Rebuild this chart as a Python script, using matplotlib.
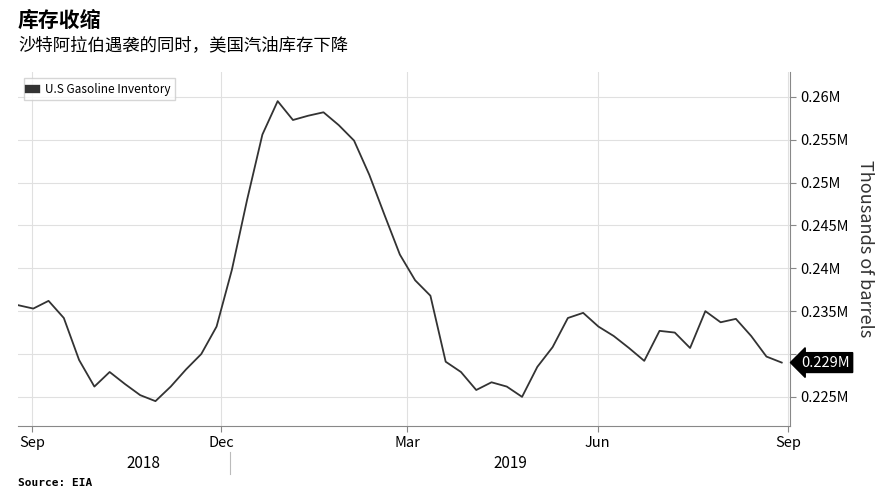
import matplotlib
matplotlib.use("Agg")
import matplotlib.pyplot as plt
import matplotlib.dates as mdates
import pandas as pd

plt.rcParams['font.family'] = ['Noto Sans CJK SC', 'DejaVu Sans']

values = [0.2357,0.2353,0.2362,0.2342,0.2293,0.2262,0.2279,0.2265,0.2252,0.2245,
          0.2262,0.2282,0.2300,0.2332,0.2398,0.2480,0.2556,0.2595,0.2573,0.2578,
          0.2582,0.2567,0.2549,0.2509,0.2462,0.2416,0.2386,0.2368,0.2291,0.2279,
          0.2258,0.2267,0.2262,0.2250,0.2285,0.2308,0.2342,0.2348,0.2332,0.2321,
          0.2307,0.2292,0.2327,0.2325,0.2307,0.2350,0.2337,0.2341,0.2321,0.2297,0.2290]
dates = pd.date_range('2018-08-25', '2019-08-29', periods=len(values))
yticks = [0.225,0.23,0.235,0.24,0.245,0.25,0.255,0.26]
ylabels = ['0.225M','','0.235M','0.24M','0.245M','0.25M','0.255M','0.26M']
xticks = pd.to_datetime(['2018-09-01','2018-12-01','2019-03-01','2019-06-01','2019-09-01'])
xlabels = ['Sep','Dec','Mar','Jun','Sep']

fig = plt.figure(figsize=(8.94,4.98), dpi=100)
ax = fig.add_axes([18/894, 72/498, 772/894, 354/498])
ax.plot(dates, values, color='#333333', lw=1.3)
ax.set_xlim(pd.Timestamp('2018-08-25'), pd.Timestamp('2019-09-02'))
ax.set_ylim(0.2216, 0.2629)
ax.yaxis.tick_right()
ax.set_yticks(yticks); ax.set_yticklabels(ylabels, fontsize=10.5)
ax.set_xticks(xticks); ax.set_xticklabels(xlabels, fontsize=10.5)
ax.grid(True, color='#e0e0e0', lw=0.8)
for s in ['top','left']:
    ax.spines[s].set_visible(False)
ax.spines['bottom'].set_color('#888888'); ax.spines['right'].set_color('#888888')
ax.tick_params(length=4, color='#888888')
ax.yaxis.set_label_position('right')
ax.set_ylabel('Thousands of barrels', rotation=-90, labelpad=18, fontsize=13, color='#333333')
ax.annotate('0.229M', xy=(1.0, values[-1]), xycoords=('axes fraction','data'),
            xytext=(8,0), textcoords='offset points', va='center', fontsize=10.5, color='white',
            bbox=dict(boxstyle='larrow,pad=0.2', fc='black', ec='black'))
ax.legend(['U.S Gasoline Inventory'], loc='upper left', fontsize=8.5, handlelength=0.6,
          handleheight=0.6, frameon=True, edgecolor='#cccccc', fancybox=False,
          bbox_to_anchor=(0.0, 1.0))
leg = ax.get_legend()
leg.legend_handles[0].set_linewidth(6)

fig.text(18/894, 1-20/498, '库存收缩', fontsize=15, fontweight='bold', va='center')
fig.text(18/894, 1-45/498, '沙特阿拉伯遇袭的同时，美国汽油库存下降', fontsize=12.5, va='center')
fig.text(143/894, 1-463/498, '2018', fontsize=11, ha='center', va='center')
fig.text(510/894, 1-463/498, '2019', fontsize=11, ha='center', va='center')
fig.add_artist(plt.Line2D([230/894,230/894],[1-452/498,1-474/498], color='#bbbbbb', lw=0.8))
fig.text(18/894, 1-483/498, 'Source: EIA', fontsize=8, fontweight='bold', va='center', family='DejaVu Sans Mono')
fig.savefig('out.png', dpi=100, facecolor='white')
